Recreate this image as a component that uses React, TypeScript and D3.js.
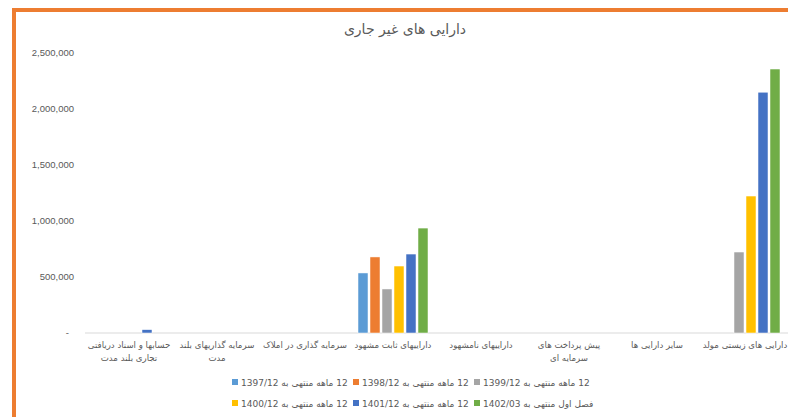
import * as d3 from 'd3'

const categories = [
    'حسابها و اسناد دریافتی تجاری بلند مدت',
    'سرمایه گذاریهای بلند مدت',
    'سرمایه گذاری در املاک',
    'داراییهای ثابت مشهود',
    'داراییهای نامشهود',
    'پیش پرداخت های سرمایه ای',
    'سایر دارایی ها',
    'دارایی های زیستی مولد',
]

// category labels broken over lines the way the reference wraps them
const categoryLines = [
    ['حسابها و اسناد دریافتی', 'تجاری بلند مدت'],
    ['سرمایه گذاریهای بلند', 'مدت'],
    ['سرمایه گذاری در املاک'],
    ['داراییهای ثابت مشهود'],
    ['داراییهای نامشهود'],
    ['پیش پرداخت های', 'سرمایه ای'],
    ['سایر دارایی ها'],
    ['دارایی های زیستی مولد'],
]

const seriesNames = [
    '12 ماهه منتهی به 1397/12',
    '12 ماهه منتهی به 1398/12',
    '12 ماهه منتهی به 1399/12',
    '12 ماهه منتهی به 1400/12',
    '12 ماهه منتهی به 1401/12',
    'فصل اول منتهی به 1402/03',
]

const s1397 = [0, 0, 0, 536000, 0, 0, 0, 0]
const s1398 = [0, 0, 0, 679000, 0, 0, 0, 0]
const s1399 = [0, 0, 0, 393000, 0, 0, 0, 723000]
const s1400 = [0, 0, 0, 598000, 0, 0, 0, 1223000]
const s1401 = [30000, 0, 0, 705000, 0, 0, 0, 2150000]
const s1402 = [0, 0, 0, 937000, 0, 0, 0, 2357000]

const yTicks = [0, 500000, 1000000, 1500000, 2000000, 2500000]

const colors = ['#5B9BD5', '#ED7D31', '#A5A5A5', '#FFC000', '#4472C4', '#70AD47']

const W = 788
const H = 417
const left = 85
const right = 789
const top = 53
const bottom = 333
const textColor = '#595959'
const faFont = 'DejaVu Sans, sans-serif'

export default function App() {
    const series = [s1397, s1398, s1399, s1400, s1401, s1402]

    const x = d3.scaleBand<string>().domain(categories).range([left, right])
    const xs = d3
        .scaleBand<number>()
        .domain(d3.range(series.length))
        .range([0, x.bandwidth()])
        .paddingInner(0.1667)
        .paddingOuter(0.75)
    const y = d3.scaleLinear().domain([0, 2500000]).range([bottom, top])
    const fmt = d3.format(',')

    return (
        <div style={{ position: 'fixed', left: 0, top: 0 }}>
            <svg width={W} height={H} style={{ display: 'block', background: '#fff' }}>
                <rect x={14} y={10} width={W} height={H} fill="none" stroke="#ED7D31" strokeWidth={4} />

                <text x={405} y={34} textAnchor="middle" fontSize={14} fill={textColor} fontFamily={faFont} direction="rtl">
                    دارایی های غیر جاری
                </text>

                {yTicks.map((t) => (
                    <text
                        key={t}
                        x={t === 0 ? 69 : 74}
                        y={y(t) + 3}
                        textAnchor="end"
                        fontSize={9.5}
                        fill={textColor}
                        fontFamily="Liberation Sans, Arial, sans-serif"
                    >
                        {t === 0 ? '-' : fmt(t)}
                    </text>
                ))}

                <line x1={left} x2={W} y1={bottom} y2={bottom} stroke="#D9D9D9" strokeWidth={1} />

                {series.map((vals, si) => (
                    <g key={si}>
                        {vals.map((v, ci) =>
                            v > 0 ? (
                                <rect
                                    key={ci}
                                    x={(x(categories[ci]) ?? 0) + (xs(si) ?? 0)}
                                    y={y(v)}
                                    width={xs.bandwidth()}
                                    height={bottom - y(v)}
                                    fill={colors[si]}
                                    stroke="#fff"
                                    strokeWidth={0.5}
                                />
                            ) : null
                        )}
                    </g>
                ))}

                {categories.map((c, ci) => (
                    <text
                        key={c}
                        x={(x(c) ?? 0) + x.bandwidth() / 2}
                        y={348}
                        textAnchor="middle"
                        fontSize={8.6}
                        fill={textColor}
                        fontFamily={faFont}
                        direction="rtl"
                    >
                        {categoryLines[ci].map((line, li) => (
                            <tspan key={li} x={(x(c) ?? 0) + x.bandwidth() / 2} dy={li === 0 ? 0 : 13}>
                                {line}
                            </tspan>
                        ))}
                    </text>
                ))}

                {seriesNames.map((name, si) => {
                    const lx = 232 + (si % 3) * 121
                    const ly = si < 3 ? 382 : 403
                    return (
                        <g key={name}>
                            <rect x={lx} y={ly - 3} width={6} height={6} fill={colors[si]} />
                            <text
                                x={lx + 9}
                                y={ly + 4}
                                textAnchor="end"
                                fontSize={9}
                                fill={textColor}
                                fontFamily={faFont}
                                direction="rtl"
                            >
                                {name}
                            </text>
                        </g>
                    )
                })}
            </svg>
        </div>
    )
}
